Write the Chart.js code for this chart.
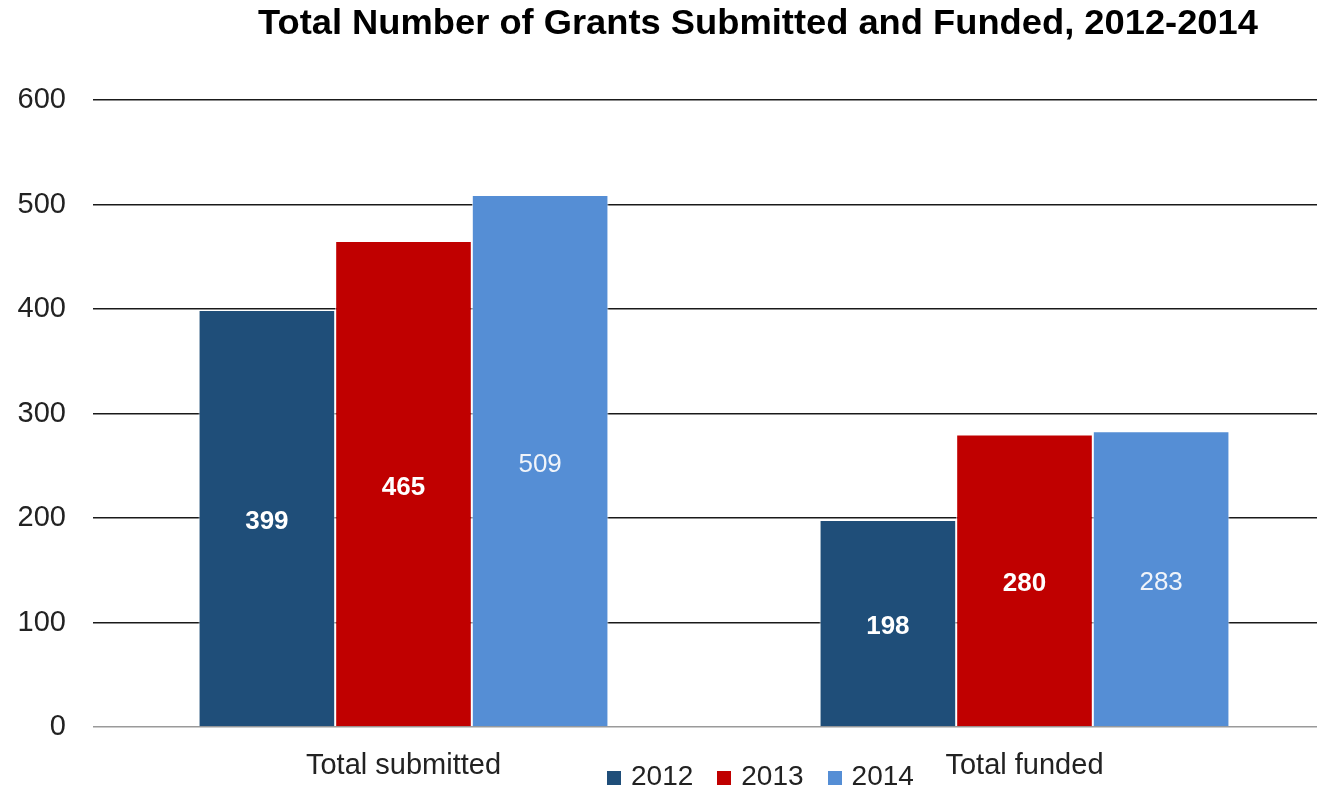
<!DOCTYPE html>
<html>
<head>
<meta charset="utf-8">
<script src="https://cdn.jsdelivr.net/npm/chart.js@4.4.1/dist/chart.umd.min.js"></script>
<style>
    body { margin: 0; background: #fff; overflow: hidden; font-family: "Liberation Sans", Arial, sans-serif; }
    #wrap { position: relative; width: 1340px; height: 793px; }
    #title { position: absolute; left: 258px; top: 2px; font-weight: bold; font-size: 35px; color: #000; white-space: nowrap; transform-origin: 0 0; }
    #legend { position: absolute; top: 760px; left: 607px; font-size: 28px; color: #222; white-space: nowrap; }
    #legend span.item { margin-right: 24px; }
    #legend span.box { display: inline-block; width: 14px; height: 14px; margin-right: 10px; }
</style>
</head>
<body>
<div id="wrap">
    <canvas id="myChart" width="1340" height="793"></canvas>
    <div id="title">Total Number of Grants Submitted and Funded, 2012-2014</div>
    <div id="legend"></div>
</div>
<script>
var categories = ["Total submitted", "Total funded"];
var years = ["2012", "2013", "2014"];
var values2012 = [399, 198];
var values2013 = [465, 280];
var values2014 = [509, 283];
var yTicks = [0, 100, 200, 300, 400, 500, 600];

var colors = ["#1F4E79", "#C00000", "#558ED5"];
var labelColors = ["#ffffff", "#ffffff", "#f0f4fa"];
var labelWeights = ["bold", "bold", "normal"];

// legend in html so it can sit where the original has it
var legendHtml = "";
for (let i = 0; i < years.length; i++) {
    legendHtml += '<span class="item"><span class="box" style="background:' + colors[i] + '"></span>' + years[i] + '</span>';
}
document.getElementById("legend").innerHTML = legendHtml;

// squeeze title to the width it has in the picture
var titleEl = document.getElementById("title");
titleEl.style.transform = "scaleX(" + (1000 / titleEl.offsetWidth) + ")";

const barLabels = {
    id: "barLabels",
    afterDatasetsDraw(chart) {
        const ctx = chart.ctx;
        chart.data.datasets.forEach((ds, i) => {
            const meta = chart.getDatasetMeta(i);
            meta.data.forEach((bar, j) => {
                ctx.save();
                ctx.font = labelWeights[i] + " 26px 'Liberation Sans', Arial, sans-serif";
                ctx.fillStyle = labelColors[i];
                ctx.textAlign = "center";
                ctx.textBaseline = "middle";
                ctx.fillText(ds.data[j], bar.x, (bar.y + bar.base) / 2 + 4);
                ctx.restore();
            });
        });
    }
};

new Chart("myChart", {
    type: "bar",
    data: {
        labels: categories,
        datasets: [
            { label: years[0], data: values2012, backgroundColor: colors[0] },
            { label: years[1], data: values2013, backgroundColor: colors[1] },
            { label: years[2], data: values2014, backgroundColor: colors[2] }
        ].map(ds => Object.assign(ds, {
            borderColor: "rgba(255,255,255,0.8)",
            borderWidth: 1,
            barPercentage: 1,
            categoryPercentage: 0.66
        }))
    },
    options: {
        responsive: false,
        animation: false,
        layout: { padding: { top: 100, right: 5, left: 0, bottom: 0 } },
        plugins: {
            legend: { display: false },
            title: { display: false },
            tooltip: { enabled: false }
        },
        scales: {
            x: {
                grid: { display: false },
                border: { display: false },
                ticks: {
                    color: "#222",
                    padding: 14,
                    font: { family: "'Liberation Sans', Arial, sans-serif", size: 29 }
                },
                afterFit: function(scale) { scale.height = 66; }
            },
            y: {
                min: 0,
                max: 600,
                afterBuildTicks: function(scale) {
                    scale.ticks = yTicks.map(v => ({ value: v }));
                },
                grid: {
                    drawTicks: false,
                    lineWidth: 1.5,
                    color: function(c) { return c.tick && c.tick.value === 0 ? "#9a9a9a" : "#1a1a1a"; }
                },
                border: { display: false },
                ticks: {
                    color: "#222",
                    padding: 27,
                    font: { family: "'Liberation Sans', Arial, sans-serif", size: 29 }
                },
                afterFit: function(scale) { scale.width = 93; }
            }
        }
    },
    plugins: [barLabels]
});
</script>
</body>
</html>
